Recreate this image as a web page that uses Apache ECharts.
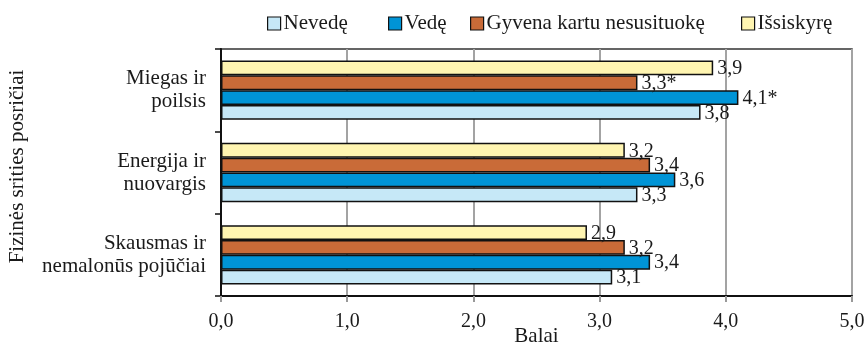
<!DOCTYPE html>
<html>
<head>
<meta charset="utf-8">
<script src="https://cdn.jsdelivr.net/npm/echarts@6/dist/echarts.min.js"></script>
<style>
  html, body { margin: 0; padding: 0; background: #fff; }
  #chart { width: 866px; height: 346px; }
</style>
</head>
<body>
<div id="chart"></div>
<script>
// Subdomains, listed bottom to top along the category axis
const categories = ['Skausmas ir\nnemalonūs pojūčiai', 'Energija ir\nnuovargis', 'Miegas ir\npoilsis'];

const seriesNames = ['Nevedę', 'Vedę', 'Gyvena kartu nesusituokę', 'Išsiskyrę'];

// Mean scores per group (same order as categories)
const nevede = [3.1, 3.3, 3.8];
const vede = [3.4, 3.6, 4.1];
const gyvena = [3.2, 3.4, 3.3];
const issiskyre = [2.9, 3.2, 3.9];

// Significance marks appended to the value labels
const vedeMarks = ['', '', '*'];
const gyvenaMarks = ['', '', '*'];
const noMarks = ['', '', ''];

const xTicks = [0, 1, 2, 3, 4, 5];

const colors = ['#c6e8f7', '#0094d6', '#c96b38', '#fff5b1'];
const FONT = '"Liberation Serif", "DejaVu Serif", serif';
const TEXT_SIZE = 21;
const NUM_SIZE = 20;

const fmt = v => v.toFixed(1).replace('.', ',');

function barSeries(name, data, marks, color) {
  return {
    name: name,
    type: 'bar',
    data: data,
    barGap: '0%',
    barCategoryGap: '28%',
    itemStyle: { color: color, borderColor: '#111', borderWidth: 1.5 },
    label: {
      show: true,
      position: 'right',
      distance: 4,
      offset: [0, 1],
      color: '#1a1a1a',
      fontFamily: FONT,
      fontSize: NUM_SIZE,
      formatter: p => fmt(p.value) + marks[p.dataIndex]
    },
    emphasis: { disabled: true }
  };
}

// One legend block per item so each can sit at its own spot
const legendLefts = [262, 383, 465, 736];
const legends = seriesNames.map((n, i) => ({
  data: [n],
  left: legendLefts[i],
  top: 8,
  itemWidth: 13,
  itemHeight: 13,
  itemGap: 0,
  icon: 'rect',
  itemStyle: { borderColor: '#111', borderWidth: 1.2 },
  textStyle: { fontFamily: FONT, fontSize: TEXT_SIZE, color: '#1a1a1a', padding: [0, 0, 0, -2] },
  selectedMode: false
}));

// Series are stacked top-down inside each category, so the last group comes first
const seriesList = [
  barSeries(seriesNames[3], issiskyre, noMarks, colors[3]),
  barSeries(seriesNames[2], gyvena, gyvenaMarks, colors[2]),
  barSeries(seriesNames[1], vede, vedeMarks, colors[1]),
  barSeries(seriesNames[0], nevede, noMarks, colors[0])
];

const chart = echarts.init(document.getElementById('chart'), null, { renderer: 'canvas' });
chart.setOption({
  animation: false,
  backgroundColor: '#fff',
  legend: legends,
  grid: {
    left: 221, right: 14, top: 49, bottom: 50,
    outerBoundsMode: 'none',
    containLabel: false,
    show: true, borderColor: '#333', borderWidth: 1.5, backgroundColor: 'transparent'
  },
  xAxis: {
    type: 'value',
    min: xTicks[0],
    max: xTicks[xTicks.length - 1],
    interval: 1,
    name: 'Balai',
    nameLocation: 'middle',
    nameGap: 30,
    nameMoveOverlap: false,
    nameTextStyle: { fontFamily: FONT, fontSize: TEXT_SIZE, color: '#1a1a1a' },
    axisLine: { show: true, lineStyle: { color: '#111', width: 2 } },
    axisTick: { show: true, length: 6, lineStyle: { color: '#999', width: 2 } },
    axisLabel: { margin: 16, fontFamily: FONT, fontSize: NUM_SIZE, color: '#1a1a1a', formatter: v => fmt(v) },
    splitLine: { show: true, lineStyle: { color: '#a3a3a3', width: 2 } }
  },
  yAxis: {
    type: 'category',
    data: categories,
    name: 'Fizinės srities posričiai',
    nameLocation: 'middle',
    nameGap: 193,
    nameRotate: 90,
    nameMoveOverlap: false,
    nameTextStyle: { fontFamily: FONT, fontSize: TEXT_SIZE, color: '#1a1a1a', padding: [0, 0, 0, 12] },
    axisLine: { show: true, lineStyle: { color: '#111', width: 2 } },
    axisTick: { show: true, length: 6, lineStyle: { color: '#111', width: 1.5 } },
    axisLabel: { margin: 15, fontFamily: FONT, fontSize: TEXT_SIZE, lineHeight: 23, color: '#1a1a1a', align: 'right' },
    splitLine: { show: false }
  },
  series: seriesList
});
</script>
</body>
</html>
